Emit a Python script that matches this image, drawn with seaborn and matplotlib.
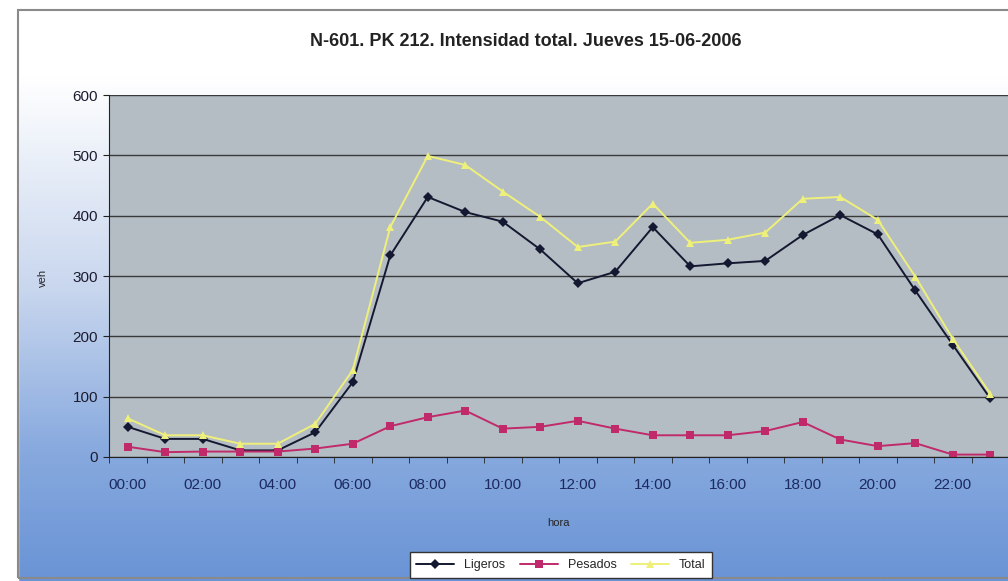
import numpy as np
import pandas as pd
import seaborn as sns
import matplotlib
matplotlib.use("Agg")
from matplotlib import pyplot as plt
from matplotlib.colors import LinearSegmentedColormap
from matplotlib.patches import Rectangle

# datos (veh/h)
horas = ["%02d:00" % h for h in range(24)]
ligeros = [50, 30, 30, 11, 11, 41, 124, 334, 431, 406, 390, 344,
           288, 307, 381, 316, 321, 325, 368, 401, 369, 276, 186, 97]
pesados = [17, 8, 9, 9, 9, 14, 22, 51, 66, 77, 47, 50,
           60, 47, 36, 36, 36, 43, 58, 29, 18, 23, 4, 4]
total = [64, 36, 36, 22, 22, 55, 144, 381, 499, 484, 440, 398,
         348, 357, 420, 355, 360, 372, 428, 431, 393, 299, 196, 105]
series = ["Ligeros", "Pesados", "Total"]

df = pd.DataFrame({"hora": range(24), "Ligeros": ligeros, "Pesados": pesados, "Total": total})
df = df.melt(id_vars="hora", var_name="serie", value_name="veh")

sns.set_style("white")
plt.rcParams['font.family'] = ['Liberation Sans', 'DejaVu Sans']

fig = plt.figure(figsize=(10.08, 5.81), dpi=100)

# fondo degradado blanco -> azul
bg = fig.add_axes([0, 0, 1, 1], zorder=-10)
bg.set_axis_off()
cmap = LinearSegmentedColormap.from_list("fondo", [(0, "#ffffff"), (0.13, "#ffffff"),
                                                    (0.5, "#c8d6ee"), (0.78, "#87a9de"),
                                                    (1, "#6a94d6")])
grad = np.linspace(0, 1, 300).reshape(-1, 1)
bg.imshow(grad, aspect="auto", cmap=cmap, extent=[0, 1, 0, 1])
bg.add_patch(Rectangle((0, 0), 18 / 1008, 1, color="white", transform=bg.transAxes))
bg.add_patch(Rectangle((18 / 1008, 3 / 581), 1.0, 1 - 13 / 581, fill=False,
                       edgecolor="#8a8a8a", lw=1.5, transform=bg.transAxes))
bg.set_xlim(0, 1)
bg.set_ylim(0, 1)

ax = fig.add_axes([109 / 1008, 1 - 457 / 581, 900 / 1008, 362 / 581])
ax.set_facecolor("#b5bdc4")

colores = {"Ligeros": "#141830", "Pesados": "#c02a6a", "Total": "#eef07a"}
marcas = {"Ligeros": "D", "Pesados": "s", "Total": "^"}
sns.lineplot(data=df, x="hora", y="veh", hue="serie", style="serie", hue_order=series,
             style_order=series, palette=colores, markers=marcas, dashes=False,
             markersize=5.5, linewidth=1.4, markeredgewidth=0, ax=ax)

ax.set_ylim(0, 600)
ax.set_xlim(-0.5, 23.5)
ax.set_yticks(range(0, 601, 100))
ax.yaxis.grid(True, color="#3a3a3a", linewidth=1)
ax.set_axisbelow(True)
ax.set_xticks(range(0, 24, 2))
ax.set_xticklabels(horas[::2], color="#1c2a60", fontsize=11)
ax.set_xticks(np.arange(-0.5, 24, 1), minor=True)
ax.tick_params(axis="x", which="major", length=0, pad=15)
ax.tick_params(axis="x", which="minor", length=4.5, color="#222222", direction="out")
ax.tick_params(axis="y", length=4.5, direction="out", color="#222222", labelsize=11,
               labelcolor="#1c1c30", pad=3.5)
ax.tick_params(bottom=True, left=True, which="both")
for s in ["top", "right"]:
    ax.spines[s].set_visible(False)
ax.spines["left"].set_color("#222222")
ax.spines["bottom"].set_color("#222222")
ax.set_xlabel("hora", fontsize=8)
ax.set_ylabel("veh", fontsize=8)
ax.xaxis.set_label_coords(0.5, -0.168)
ax.yaxis.set_label_coords(-0.068, 0.494)

fig.text(526 / 1008, 1 - 42 / 581, "N-601. PK 212. Intensidad total. Jueves 15-06-2006",
         ha="center", va="center", fontsize=13, fontweight="bold", color="#222222")

ax.get_legend().remove()
h, l = ax.get_legend_handles_labels()
leg = fig.legend(h, l, loc="center", bbox_to_anchor=(561 / 1008, 1 - 565 / 581), ncol=3,
                 fontsize=9, frameon=True, fancybox=False, edgecolor="#333333",
                 handlelength=3, columnspacing=1.2, borderpad=0.55)
leg.get_frame().set_facecolor("white")
leg.get_frame().set_alpha(1)

plt.savefig("out.png", dpi=100)
